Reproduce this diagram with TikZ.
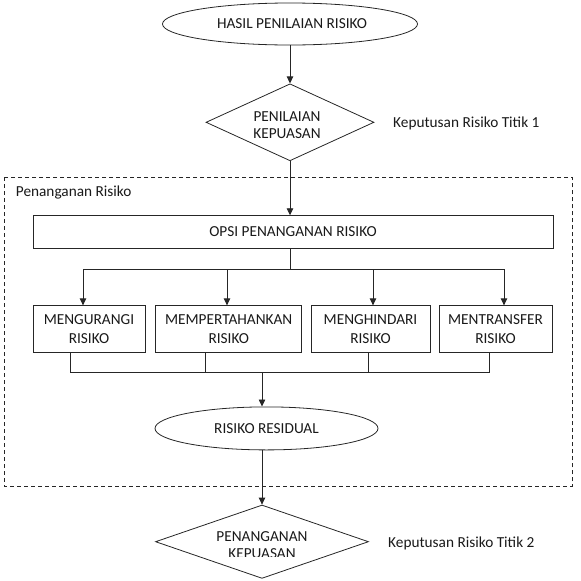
\documentclass[tikz,border=0pt]{standalone}
\usepackage{fontspec}
\setmainfont{Carlito}
\usetikzlibrary{shapes.geometric,arrows.meta}
\begin{document}
\begin{tikzpicture}[x=1pt,y=-1pt,
  line/.style={draw=black!85,line width=0.8pt},
  arr/.style={line,-{Triangle[length=7pt,width=6.5pt]}},
  lbl/.style={font=\fontsize{15.3}{17}\selectfont,inner sep=0pt,align=center,text=black!90},
  ellnode/.style={ellipse,line,inner sep=0pt},
  dia/.style={diamond,line,inner sep=0pt},
  boxnode/.style={rectangle,line,inner sep=0pt,align=center,font=\fontsize{15.3}{19}\selectfont,text=black!90},
  dashbox/.style={draw=black!85,line width=0.8pt,dash pattern=on 4pt off 3pt}
]
\useasboundingbox (0,0) rectangle (581,581);
% dashed frame
\draw[dashbox] (4.7,177.3) rectangle (572,486.7);
\node[lbl,anchor=west] (pr) at (15.7,193) {Penanganan Risiko};

% top ellipse
\node[ellnode,minimum width=255pt,minimum height=42pt] (top) at (290,24) {};
\node[lbl] (toptxt) at (292,24) {HASIL PENILAIAN RISIKO};

% diamond 1
\node[dia,minimum width=168pt,minimum height=77pt] (d1) at (290,122.3) {};
\node[lbl,font=\fontsize{15.3}{16.5}\selectfont] (d1txt) at (287,125) {PENILAIAN\\KEPUASAN};
\node[lbl,anchor=west] (k1) at (393,123) {Keputusan Risiko Titik 1};

% options rectangle
\node[boxnode,minimum width=520pt,minimum height=32.6pt] (opsi) at (293,232) {OPSI PENANGANAN RISIKO};

% four boxes
\node[boxnode,minimum width=112pt,minimum height=46.3pt] (b1) at (89,328.9) {MENGURANGI\\RISIKO};
\node[boxnode,minimum width=146pt,minimum height=46.3pt] (b2) at (228.7,328.9) {MEMPERTAHANKAN\\RISIKO};
\node[boxnode,minimum width=119pt,minimum height=46.3pt] (b3) at (370.5,328.9) {MENGHINDARI\\RISIKO};
\node[boxnode,minimum width=113pt,minimum height=46.3pt] (b4) at (495.5,328.9) {MENTRANSFER\\RISIKO};

% residual ellipse
\node[ellnode,minimum width=223pt,minimum height=43pt] (rr) at (266.5,428.4) {};
\node[lbl] (rrtxt) at (266.5,428.4) {RISIKO RESIDUAL};

% diamond 2
\node[dia,minimum width=213pt,minimum height=73.4pt] (d2) at (262,541.7) {};
\begin{scope}
\clip (140,500) rectangle (390,556.5);
\node[lbl,font=\fontsize{15.3}{17.3}\selectfont] (d2txt) at (262,545.4) {PENANGANAN\\KEPUASAN};
\end{scope}
\node[lbl,anchor=west] (k2) at (388,543) {Keputusan Risiko Titik 2};

% coordinates for branching
\coordinate (s) at (290,269);
\coordinate (a1) at (83,269);
\coordinate (a2) at (227,269);
\coordinate (a3) at (373,269);
\coordinate (a4) at (504,269);
\coordinate (c1) at (70,372.7);
\coordinate (c2) at (205,372.7);
\coordinate (c3) at (368,372.7);
\coordinate (c4) at (489,372.7);
\coordinate (m) at (262,372.7);

% connectors
\draw[arr] (top.south -| d1.north) -- (d1.north);
\draw[arr] (d1.south) -- (d1.south |- opsi.north);
\draw[line] (opsi.south -| s) -- (s);
\draw[line] (a1) -- (a4);
\draw[arr] (a1) -- (a1 |- b1.north);
\draw[arr] (a2) -- (a2 |- b2.north);
\draw[arr] (a3) -- (a3 |- b3.north);
\draw[arr] (a4) -- (a4 |- b4.north);
\draw[line] (c1 |- b1.south) -- (c1);
\draw[line] (c2 |- b2.south) -- (c2);
\draw[line] (c3 |- b3.south) -- (c3);
\draw[line] (c4 |- b4.south) -- (c4);
\draw[line] (c1) -- (c4);
\draw[arr] (m) -- (m |- rr.north);
\draw[arr] (m |- rr.south) -- (d2.north);
\end{tikzpicture}
\end{document}
